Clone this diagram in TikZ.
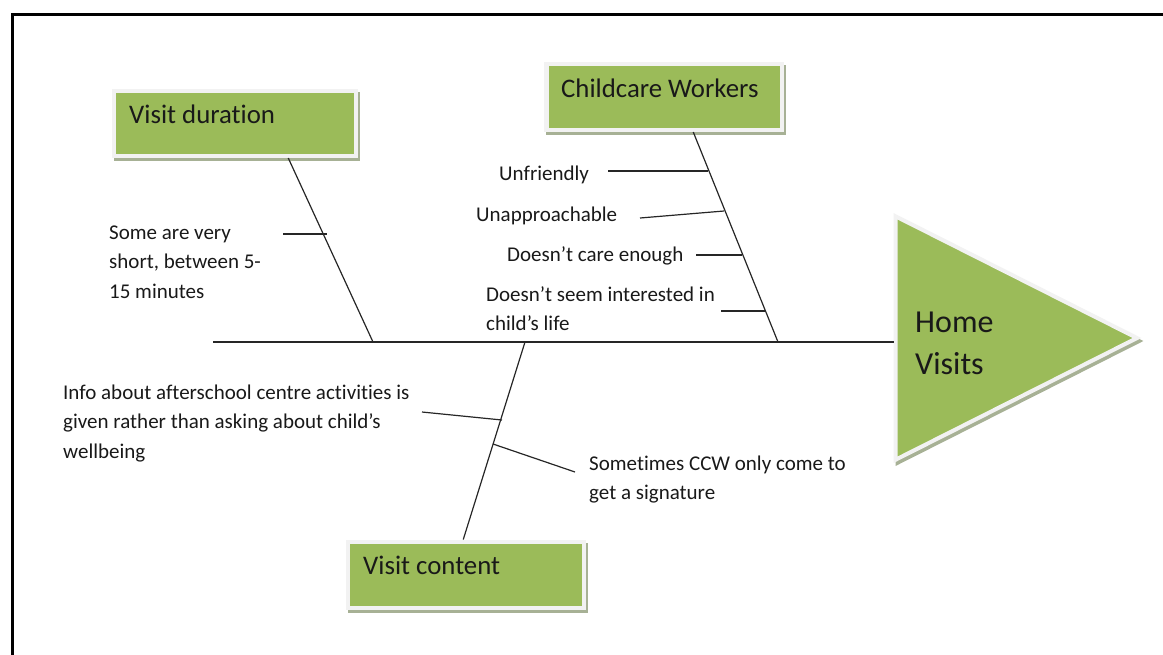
\documentclass[tikz,border=0pt]{standalone}
\usepackage{fontspec}
\setmainfont{Carlito}[Ligatures=NoCommon]
\usetikzlibrary{calc,shapes.geometric,shadows}
\definecolor{fishgreen}{HTML}{9BBB59}
\definecolor{rimgray}{HTML}{F2F2F2}
\definecolor{shadegray}{HTML}{A7B195}

\begin{document}
\begin{tikzpicture}[x=1pt,y=-1pt,
  catbox/.style={rectangle, fill=fishgreen, draw=rimgray, line width=4.5pt,
    inner sep=0pt, anchor=north west,
    drop shadow={shadow xshift=2pt, shadow yshift=-3pt, fill=shadegray,
      draw=shadegray, line width=4.5pt, opacity=1}},
  cattext/.style={anchor=base west, inner sep=0pt, text=black!90,
    font=\fontsize{26.8}{31}\selectfont},
  cause/.style={anchor=north west, inner sep=0pt, align=left, yshift=20.65pt,
    text=black!90, font=\fontsize{21}{29.5}\selectfont},
  headtext/.style={anchor=north west, inner sep=0pt, align=left, yshift=29.4pt,
    text=black!90, font=\fontsize{32}{42}\selectfont},
  headtri/.style={isosceles triangle, isosceles triangle stretches,
    shape border rotate=0, fill=fishgreen, draw=rimgray, line width=4pt,
    inner sep=0pt, minimum width=243.5pt, minimum height=241.5pt, anchor=west,
    drop shadow={shadow xshift=2pt, shadow yshift=-3pt, fill=shadegray,
      draw=shadegray, line width=4pt, opacity=1}},
  bone/.style={draw=black!85, line width=1.2pt},
  frame/.style={draw=black, line width=3pt},
]
\useasboundingbox (0,0) rectangle (1163,654);

% page frame
\draw[frame] (12,670) -- (12,14) -- (1175,14);

% category boxes and effect head
\node[catbox, minimum width=242pt, minimum height=65pt] (vd) at (111.5,88.5) {};
\node[cattext] (vd-text) at (129,123) {Visit duration};
\node[catbox, minimum width=235.5pt, minimum height=66pt] (cw) at (544,61.5) {};
\node[cattext] (cw-text) at (561,97) {Childcare Workers};
\node[catbox, minimum width=236pt, minimum height=66pt] (vc) at (345.5,539.5) {};
\node[cattext] (vc-text) at (363,574) {Visit content};

\node[headtri] (head) at (893.5,338) {};
\node[headtext] (head-text) at (915,332) {\strut Home\\Visits};

% spine
\coordinate (tail) at (213,342);
\draw[bone] (tail) -- (tail -| head.west);

% main bones
\coordinate (vd-root) at (373,342);
\coordinate (cw-root) at (778,342);
\coordinate (vc-root) at (525,342);
\draw[bone] ($(vd.south)+(53.5,0)$) -- (vd-root);
\draw[bone] ($(cw.south)+(29.25,0)$) -- (cw-root);
\draw[bone] ($(vc.north)+(-2.5,0)$) -- (vc-root);

% causes: visit duration
\node[cause] (vd-c1) at (109,239) {\strut Some are very\\short, between 5-\\15 minutes};
\coordinate (vd-r1a) at (283,234);
\coordinate (vd-r1b) at (327,234);
\draw[bone] (vd-r1a) -- (vd-r1b);

% causes: childcare workers
\node[cause] (cw-c1) at (499,180) {\strut Unfriendly};
\node[cause] (cw-c2) at (476,221) {\strut Unapproachable};
\node[cause] (cw-c3) at (507,261) {\strut Doesn’t care enough};
\node[cause] (cw-c4) at (486,301) {\strut Doesn’t seem interested in\\child’s life};
\coordinate (cw-r1a) at (608,171);
\coordinate (cw-r1b) at (708,171);
\coordinate (cw-r2a) at (640,218);
\coordinate (cw-r2b) at (724,211);
\coordinate (cw-r3a) at (696,255);
\coordinate (cw-r3b) at (742,255);
\coordinate (cw-r4a) at (721,311);
\coordinate (cw-r4b) at (765,311);
\draw[bone] (cw-r1a) -- (cw-r1b);
\draw[bone] (cw-r2a) -- (cw-r2b);
\draw[bone] (cw-r3a) -- (cw-r3b);
\draw[bone] (cw-r4a) -- (cw-r4b);

% causes: visit content
\node[cause] (vc-c1) at (63,399) {\strut Info about afterschool centre activities is\\given rather than asking about child’s\\wellbeing};
\node[cause] (vc-c2) at (589,470) {\strut Sometimes CCW only come to\\get a signature};
\coordinate (vc-r1a) at (422,412);
\coordinate (vc-r1b) at (502,420);
\coordinate (vc-r2a) at (493,444);
\coordinate (vc-r2b) at (575,472);
\draw[bone] (vc-r1a) -- (vc-r1b);
\draw[bone] (vc-r2a) -- (vc-r2b);
\end{tikzpicture}
\end{document}
